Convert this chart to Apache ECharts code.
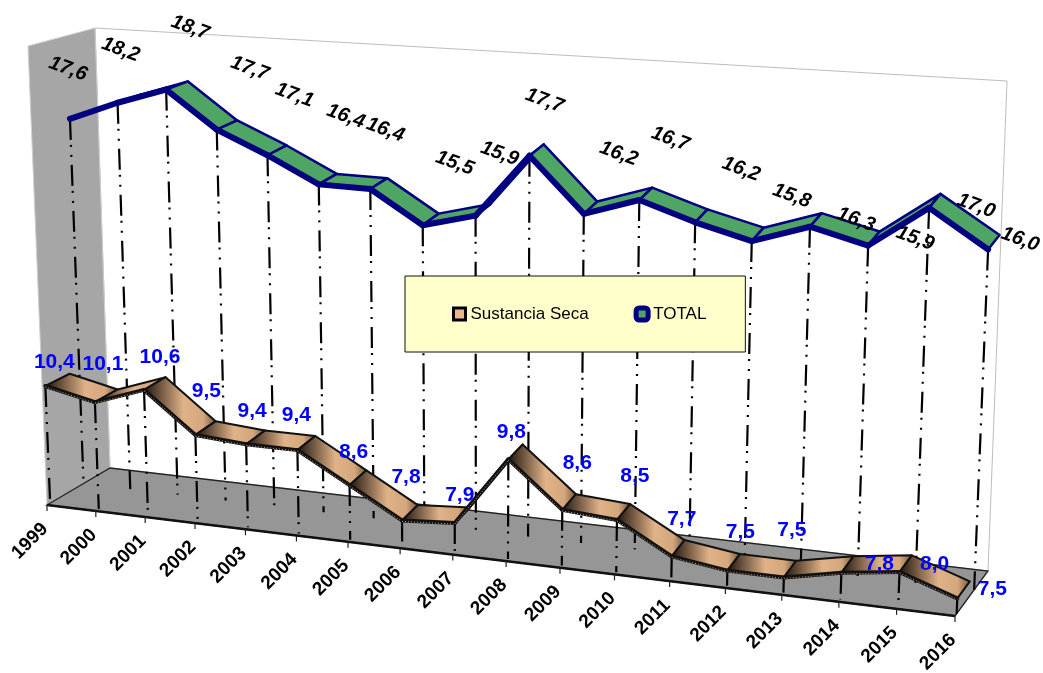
<!DOCTYPE html>
<html><head><meta charset="utf-8">
<style>html,body{margin:0;padding:0;background:#fff}#c{width:1043px;height:673px}</style>
<script src="https://cdn.jsdelivr.net/npm/echarts@6/dist/echarts.min.js"></script>
</head><body><div id="c"></div>
<script>
const years = ['1999','2000','2001','2002','2003','2004','2005','2006','2007','2008','2009','2010','2011','2012','2013','2014','2015','2016'];
const sustanciaSeca = [10.4,10.1,10.6,9.5,9.4,9.4,8.6,7.8,7.9,9.8,8.6,8.5,7.7,7.5,7.5,7.8,8.0,7.5];
const total = [17.6,18.2,18.7,17.7,17.1,16.4,16.4,15.5,15.9,17.7,16.2,16.7,16.2,15.8,16.3,15.9,17.0,16.0];

// Layout only: label nudges relative to each ribbon point, in pixels
const totalLabelNudge = [[-2,-50],[3,-53],[24,-62],[33,-61],[27,-60],[27,-68],[15,-59],[32,-62],[24,-62],[15,-55],[35,-60],[31,-61],[46,-53],[40,-45],[46,-7],[47,-7],[47,-2],[32,-10]];
const sustLabelNudge = [[9,-24],[8,-38],[16,-33],[11,-44],[6,-33],[-1,-35],[4,-33],[4,-43],[5,-28],[3,-27],[15,-47],[18,-44],[10,-37],[13,-38],[8,-47],[38,-9],[35,-8],[35,-9]];

// Perspective box: screen corners of the plot box (front/back, bottom/top, left/right)
const box = {
  fbl:[47,505], fbr:[955,616], bbl:[110,468], bbr:[988,571],
  ftl:[28,46],  ftr:[977,118], btl:[95,28],   btr:[1007,81]
};
const W = 1043, H = 673, AX_MIN = 7.1, AX_MAX = 20;
const mix = (a,b,t)=>[a[0]+(b[0]-a[0])*t, a[1]+(b[1]-a[1])*t];
function project(c, d){
  const u = c[0]/W, h = 1-c[1]/H;
  const widen = 1.1+0.05*d;
  const s = u/(u+widen*(1-u));
  const bottom = mix(mix(box.fbl,box.fbr,s), mix(box.bbl,box.bbr,s), d);
  const top = mix(mix(box.ftl,box.ftr,s), mix(box.btl,box.btr,s), d);
  const r = mix(bottom, top, h);
  r[1] += 10*4*s*(1-s)*h*h*(1-h*h*h*h*h*h*h*h*h*h);
  return r;
}
const pts = arr => arr.map((v,i)=>[i,v]);
const sustDepth = [0.05,0.43], totalDepth = [0.58,0.95];
const dash = [21,5,2,8,2,8];

function dropSeries(name, values, depth){
  return {type:'custom', name, z:2, silent:true, data:pts(values), encode:{x:0,y:1},
    renderItem(p, api){
      const i = api.value(0), v = api.value(1);
      const a = project(api.coord([i,v]),depth), b = project(api.coord([i,AX_MIN]),depth);
      return {type:'line', shape:{x1:a[0],y1:a[1],x2:b[0],y2:b[1]},
        style:{stroke:'#000',lineWidth:2.2,lineDash:dash,fill:null}};
    }};
}
function ribbonSeries(name, values, depth, look){
  return {type:'custom', name, z:2, silent:true, data:pts(values), encode:{x:0,y:1}, itemStyle:{color:look.legend},
    renderItem(p, api){
      const i = api.value(0), v = api.value(1);
      if(i >= values.length-1) return {type:'group',children:[]};
      const c0 = api.coord([i,v]), c1 = api.coord([i+1,values[i+1]]);
      const a = project(c0,depth[0]), b = project(c1,depth[0]), c = project(c1,depth[1]), e = project(c0,depth[1]);
      const kids = [{type:'polygon', shape:{points:[a,b,c,e]},
        style:{fill:look.fill, stroke:look.edge, lineWidth:look.edgeWidth, lineJoin:'round'}},
        {type:'line', shape:{x1:a[0],y1:a[1],x2:b[0],y2:b[1]},
        style:{stroke:look.edge, lineWidth:look.frontWidth, lineCap:'round', fill:null}}];
      if(look.stitch) kids.push({type:'line', shape:{x1:a[0],y1:a[1]+1,x2:b[0],y2:b[1]+1},
        style:{stroke:look.stitch, lineWidth:1, lineDash:[1,2], fill:null}});
      return {type:'group',children:kids};
    }};
}
function labelSeries(values, depth, nudge, font, fill, rot){
  return {type:'custom', name:'labels', z:3, silent:true, data:pts(values), encode:{x:0,y:1},
    renderItem(p, api){
      const i = api.value(0), v = api.value(1);
      const a = project(api.coord([i,v]),depth);
      return {type:'text', x:a[0]+nudge[i][0], y:a[1]+nudge[i][1], rotation:rot,
        style:{text:v.toFixed(1).replace('.',','), font, fill, align:'center', verticalAlign:'middle'}};
    }};
}
const frameSeries = {type:'custom', name:'frame', z:1, silent:true, data:[[0,AX_MIN]], encode:{x:0,y:1},
  renderItem(p, api){
    const last = years.length-1;
    const q=(i,v,d)=>project(api.coord([i,v]),d);
    const fl=q(0,AX_MIN,0), fr=q(last,AX_MIN,0), bl=q(0,AX_MIN,1), br=q(last,AX_MIN,1),
          tl=q(0,AX_MAX,1), tr=q(last,AX_MAX,1), ltf=q(0,AX_MAX,0);
    return {type:'group',children:[
      {type:'polygon',shape:{points:[tl,tr,br,bl]},style:{fill:'#fff',stroke:'#BDBDBD',lineWidth:1}},
      {type:'polygon',shape:{points:[ltf,tl,bl,fl]},style:{fill:'#A6A6A6',stroke:'#CFCFCF',lineWidth:1}},
      {type:'polygon',shape:{points:[fl,fr,br,bl]},style:{fill:'#969696',stroke:'#222',lineWidth:1.3}},
      {type:'line',shape:{x1:fl[0],y1:fl[1],x2:fr[0],y2:fr[1]},style:{stroke:'#111',lineWidth:2.6,fill:null}}
    ]};
  }};
const axisSeries = {type:'custom', name:'axis', z:3, silent:true, data:years.map((y,i)=>[i,AX_MIN]), encode:{x:0,y:1},
  renderItem(p, api){
    const i=api.value(0), a=project(api.coord([i,AX_MIN]),0);
    return {type:'group',children:[
      {type:'line',shape:{x1:a[0],y1:a[1],x2:a[0],y2:a[1]+6},style:{stroke:'#222',lineWidth:1.2,fill:null}},
      {type:'text',x:a[0]-17,y:a[1]+36,rotation:Math.PI/4,
       style:{text:years[i],font:'bold 19px "Liberation Sans"',fill:'#000',align:'center',verticalAlign:'middle'}}
    ]};
  }};
const tan = {type:'linear',x:0,y:0,x2:1,y2:0,colorStops:[
  {offset:0,color:'#1a110a'},{offset:.55,color:'#E0B288'},{offset:.82,color:'#D4A67C'},{offset:1,color:'#6a5038'}]};

const chart = echarts.init(document.getElementById('c'),null,{renderer:'canvas'});
chart.setOption({
  animation:false,
  backgroundColor:'#fff',
  grid:{left:0,right:0,top:0,bottom:0},
  xAxis:{type:'category',data:years,boundaryGap:false,show:false},
  yAxis:{type:'value',min:AX_MIN,max:AX_MAX,show:false},
  legend:{left:405,top:276,z:10,orient:'horizontal',
    backgroundColor:'#FFFFCC',borderColor:'#111',borderWidth:1,
    padding:[29.5,39,29.5,47],itemWidth:12,itemHeight:12,itemGap:45,
    selectedMode:false,
    textStyle:{fontFamily:'Liberation Sans',fontSize:17,color:'#000'},
    data:[
      {name:'Sustancia Seca',icon:'rect',itemStyle:{color:'#E8B88C',borderColor:'#000',borderWidth:3}},
      {name:'TOTAL',icon:'roundRect',itemStyle:{color:'#4FA564',borderColor:'#000080',borderWidth:5}}
    ]},
  series:[
    frameSeries,
    dropSeries('total-drop',total,totalDepth[0]),
    ribbonSeries('TOTAL',total,totalDepth,{legend:'#000080',fill:'#4FA564',edge:'#000080',edgeWidth:2.5,frontWidth:6}),
    dropSeries('sust-drop',sustanciaSeca,sustDepth[0]),
    ribbonSeries('Sustancia Seca',sustanciaSeca,sustDepth,{legend:'#E8B88C',fill:tan,edge:'#111',edgeWidth:2,frontWidth:4,stitch:'#C9A27C'}),
    axisSeries,
    labelSeries(total,totalDepth[0],totalLabelNudge,'italic bold 20px "Liberation Sans"','#000',-0.35),
    labelSeries(sustanciaSeca,sustDepth[0],sustLabelNudge,'bold 21px "Liberation Sans"','#0000FF',0)
  ]
});
</script></body></html>
